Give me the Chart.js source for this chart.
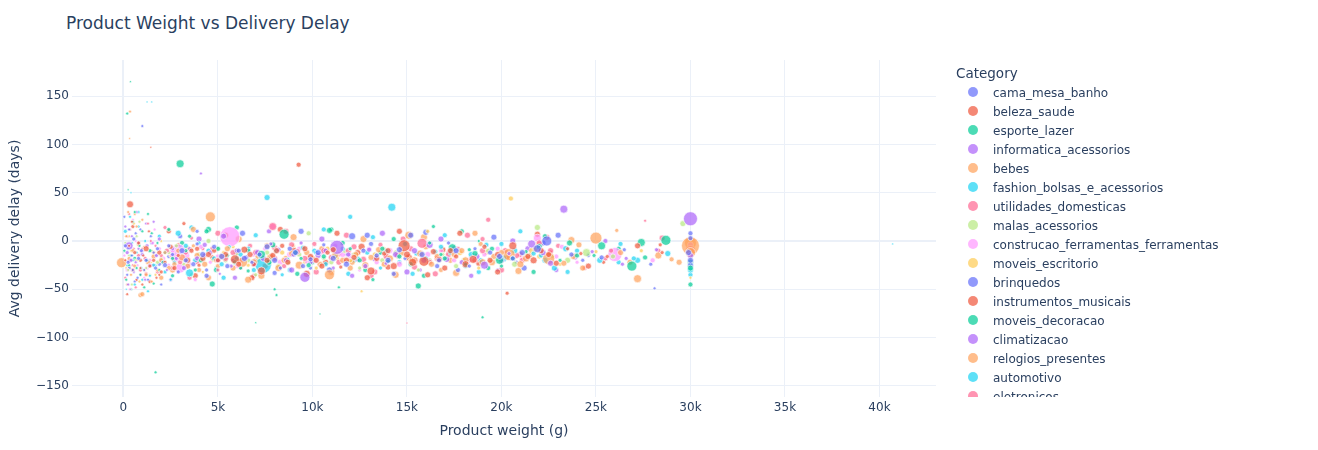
<!DOCTYPE html>
<html>
<head>
<meta charset="utf-8">
<script src="https://cdn.jsdelivr.net/npm/chart.js@4.4.1/dist/chart.umd.min.js"></script>
<style>
  html, body { margin:0; padding:0; background:#fff; }
  body { width:1318px; height:450px; position:relative; overflow:hidden; font-family:'DejaVu Sans', sans-serif; color:#2a3f5f; }
  #chart { position:absolute; left:0; top:0; }
  #title { position:absolute; left:66px; top:11px; font-size:17px; line-height:24px; white-space:nowrap; }
  #legend { position:absolute; left:940px; top:0; width:378px; height:397px; overflow:hidden; }
  #legend .lt { position:absolute; left:16px; top:64px; font-size:13.5px; line-height:18px; white-space:nowrap; }
  #legend .it { position:absolute; left:28px; height:19px; line-height:19px; font-size:12px; white-space:nowrap; }
  #legend .mk { display:inline-block; width:10px; height:10px; border-radius:50%; vertical-align:middle; margin-right:15px; position:relative; top:-1px; }
</style>
</head>
<body>
<div id="title">Product Weight vs Delivery Delay</div>
<canvas id="chart" width="1318" height="450"></canvas>
<div id="legend"></div>
<script>
// ---- data (x in thousands of grams, y = avg delay in days, r = bubble radius) ----
const categories = [
  "cama_mesa_banho","beleza_saude","esporte_lazer","informatica_acessorios","bebes",
  "fashion_bolsas_e_acessorios","utilidades_domesticas","malas_acessorios",
  "construcao_ferramentas_ferramentas","moveis_escritorio","brinquedos",
  "instrumentos_musicais","moveis_decoracao","climatizacao","relogios_presentes",
  "automotivo","eletronicos"
];
const palette = ["#636efa","#EF553B","#00cc96","#ab63fa","#FFA15A","#19d3f3","#FF6692","#B6E880","#FF97FF","#FECB52"];

const cama_mesa_banho = [0.1,-5,2, 0.3,12,1.5, 0.5,-30,1.5, 0.8,-18,2, 1.0,119,1.5, 1.3,-40,1.5, 1.8,-8,2, 2.2,-25,2.5, 2.6,-14,2, 3.3,-20,2.5, 3.9,-3,2, 4.4,-30,2, 5.2,-16,3, 6.1,-10,2.5, 6.8,-22,2, 7.6,-6,3, 8.3,-28,2, 9.1,-12,3, 9.9,-19,2.5, 10.6,-4,2, 11.8,-24,3, 12.1,5,3.5, 13.4,-15,2.5, 14.6,-9,3, 15.2,6,3, 16.7,-20,2.5, 17.2,-2,2, 18.3,-26,2, 19.4,-12,2.5, 20.6,-18,2.5, 21.9,-8,4, 22.4,0,5, 23.7,-14,2.5, 24.3,-20,2, 26.5,-9,2, 28.1,-49,1.5, 29.9,-12,3, 30,-20,3, 30,3,2.5,
  0.05,25,1.5, 0.2,-35,1.5, 0.45,-15,1.5, 0.65,8,1.5, 1.1,-30,1.5, 1.6,-12,1.5, 2.0,-45,1.5,
  0.25,-22,2, 0.55,2,2, 0.75,-38,1.5, 0.95,-10,2, 1.2,-20,2, 1.45,5,1.5, 1.7,-28,2, 2.4,-5,2, 2.9,-32,2, 3.1,-10,3, 3.7,-24,2.5, 4.2,-14,3, 4.8,-6,2.5, 5.5,-26,2.5, 6.4,-18,3, 7.2,-14,2.5, 8.0,-20,3, 8.8,-8,2.5, 9.5,-26,2.5, 10.3,-12,3, 11.1,-18,3, 12.7,-10,2.5, 14.0,-20,3, 15.8,-14,3, 17.6,-10,3, 19.9,-16,3, 21.1,-12,3, 25.3,-17,2.5];
const beleza_saude = [0.2,-55,1.5, 0.35,38,3.5, 0.6,-12,2, 0.9,-28,1.5, 1.2,-8,3, 1.45,97,1, 1.6,-20,2, 2.0,-32,2, 2.5,-6,2.5, 2.9,-15,2, 3.2,18,2, 3.6,-10,2.5, 4.0,-25,2, 4.5,-14,3, 5.0,-20,2.5, 5.9,-19,4.5, 6.4,-9,3.5, 6.9,-24,2.5, 7.3,-31,4, 7.9,-15,3, 8.4,-5,2.5, 9.27,79,2.5, 9.6,-8,3, 10.2,-20,3, 10.8,-12,2.5, 11.5,-27,2, 12.2,-17,3, 12.6,-6,3.5, 13.1,-31,4, 13.8,-13,2.5, 14.3,-26,3.5, 14.85,-5,6, 15.3,-22,4, 15.9,-21,5, 16.4,-11,3, 17.0,-28,3, 17.6,-16,2.5, 18.5,-19,4, 19.1,-6,2.5, 19.8,-14,3, 20.3,-54,2, 20.6,-5,4, 21.4,-16,3, 22.1,-10,3, 22.9,-23,3, 23.5,-8,2, 24.2,-13,2, 25.6,-16,2, 27.2,-5,3, 28.5,-12,2,
  0.1,-20,1.5, 0.3,-5,1.5, 0.45,20,1.5, 0.7,-40,1.5, 1.05,-15,1.5, 1.35,10,1.5, 1.75,-38,1.5,
  0.5,-30,2, 0.8,-2,2, 1.0,-45,1.5, 1.4,-26,2, 1.9,-12,2.5, 2.2,-22,2, 2.7,-28,2.5, 3.4,-20,3, 3.9,-8,2.5, 4.2,-18,3, 4.8,-10,2.5, 5.4,-14,3, 6.1,-24,3, 6.7,-14,3, 7.6,-20,3, 8.1,-10,3, 8.7,-22,3, 9.9,-16,3, 10.5,-26,3, 11.1,-9,3, 11.8,-20,3, 13.4,-18,3, 14.0,-10,3, 15.0,-14,3.5, 16.7,-19,3, 17.3,-10,3, 18.1,-24,3.5, 19.4,-20,3, 21.7,-20,3.5, 22.5,-14,3];
const esporte_lazer = [0.15,-40,1.5, 0.2,132,1.5, 0.37,165,1, 0.5,20,1.5, 0.9,-35,1.5, 1.1,-48,1.5, 1.5,8,1.5, 1.7,-136,1.5, 2.1,-22,2, 2.4,12,2, 3.0,80,4, 3.3,-10,2, 3.8,-30,2, 4.7,-44.5,3, 4.4,10,2.5, 5.5,-15,2, 6.2,-28,2, 7.0,-84.5,1, 7.3,-14,4, 8.0,-50,1.5, 8.5,7,5, 8.8,25,2.5, 9.4,-18,2, 10.4,-75.5,1, 10.9,11,3, 11.4,-48,1.5, 12.0,-8,2, 13.2,-40,2, 14.0,-21,2, 15.6,-46.5,3, 16.2,-2,2, 16.8,-14,2, 17.4,-7,4, 18.1,-24,2, 18.8,0,1.5, 19.0,-79,1.5, 19.5,-8,2.5, 19.9,-20,4, 21.3,-11,2, 23.1,-20,2, 25.3,-5,4, 26.9,-26,5, 27.4,-1.5,4, 28.7,0.7,5, 30,-45,2.5, 30,-28,3,
  0.05,-10,1.5, 0.3,-25,1.5, 0.6,30,1.5, 0.85,-5,1.5, 1.25,-20,1.5, 1.9,-30,1.5, 0.25,53,1,
  0.4,-15,1.5, 0.7,-28,1.5, 1.0,10,1.5, 1.4,-10,2, 1.8,-2,1.5, 2.6,-18,2, 3.5,5,2, 4.1,-20,2.5, 5.0,-8,2.5, 5.9,-22,2.5, 6.6,-10,2.5, 7.7,-22,3, 9.1,-12,2.5, 9.8,-25,2.5, 10.6,-16,2.5, 12.5,-20,2.5, 13.7,-8,2.5, 14.6,-16,2.5, 15.2,-24,2.5, 17.0,-18,2.5, 18.6,-13,3, 20.6,-18,2.5, 22.0,-6,3, 24.0,-15,2.5];
const informatica_acessorios = [0.3,-5,4, 0.4,-20,2, 0.7,30,1.5, 1.0,-14,2, 1.4,-25,2, 1.9,2,2, 2.3,-30,1.5, 2.8,-18,2, 3.5,-8,2, 4.1,70,1.5, 4.6,-12,2.5, 5.3,5,3, 5.7,-26,2, 6.5,-17,2.5, 7.1,-12,3, 7.8,-3,2, 8.6,-20,2.5, 9.6,-37.6,5, 10.3,-15,3, 11.3,-6.5,7, 12.4,-20,2, 13.0,-9,2.5, 13.9,-23,2, 15.4,-10,3, 16.2,-4,3.5, 17.1,-19,3, 17.9,-22,2.5, 19.1,-25,4, 20.4,-13,2, 21.6,-3,4, 22.6,-23,3, 23.3,33,4, 24.8,-11,2, 26.6,-18,2, 28.2,-9,2, 30,23,7, 30,-15,3,
  0.1,15,1.5, 0.55,-32,1.5, 0.8,-2,1.5, 1.15,-40,1.5, 1.6,20,1.5, 0.25,-45,1.5,
  0.2,-12,2, 0.45,5,1.5, 0.65,-22,1.5, 0.9,-35,1.5, 1.25,-5,2, 1.75,-15,2, 2.1,-22,2, 2.6,-8,2, 3.2,-28,2.5, 3.9,-18,2.5, 4.3,-4,2.5, 5.0,-20,2.5, 6.0,-10,2.5, 6.9,-24,2.5, 7.4,-18,3, 8.2,-9,2.5, 9.0,-14,2.5, 9.9,-22,2.5, 10.7,-10,2.5, 11.9,-14,2.5, 12.8,-26,2.5, 14.4,-14,3, 15.9,-20,3, 17.5,-8,3, 18.7,-16,3, 20.0,-20,3, 22.2,-12,3];
const bebes = [-0.1,-22.5,5, 0.33,106,1, 0.35,134,1.5, 0.5,-10,2, 0.9,-56,2.5, 1.0,-55,2.5, 1.3,-22,2.5, 1.8,-30,2, 2.2,-12,2, 2.7,-24,2.5, 3.1,-17,3.5, 3.7,-5,2, 4.0,-30,2.5, 4.6,25,5, 4.9,-20,2.5, 5.5,-8,3, 6.3,-22,5, 6.6,-40,3.5, 7.1,-16,2.5, 7.6,-5,3, 8.2,-28,3.5, 8.9,-13,3, 9.3,-25,4, 10.0,-18,3, 10.9,-35,5, 11.6,-20,3, 12.3,-14,3, 12.8,-25,3.5, 13.5,-9,3, 14.1,-18,3.5, 15.1,6,4, 15.7,-13,3.5, 16.3,-24,3, 16.8,-30,2.5, 17.5,-14,3, 18.1,-20,3.5, 18.9,-3,2.5, 19.6,-16,3, 20.4,-14,6, 21.0,-24,3.5, 21.8,-8,3, 22.5,-18,6, 23.3,-23,3, 24.1,-4,3, 25.0,3,6, 26.1,11,2, 26.3,-12,3, 27.2,-39,4, 28.3,-15,3.5, 29.4,-22,3, 30,-5,9, 30,-12,5,
  0.15,5,1.5, 0.4,-35,1.5, 0.7,15,1.5, 1.1,-6,1.5, 1.5,-42,1.5, 0.25,30,1.5,
  0.3,-18,2, 0.6,-26,2, 0.8,-4,2, 1.2,-35,2, 1.6,-16,2.5, 2.0,-20,2.5, 2.4,-28,2.5, 2.9,-10,2.5, 3.4,-26,3, 3.9,-15,3, 4.3,-24,3, 5.2,-16,3, 5.8,-28,3, 6.9,-22,3.5, 7.8,-16,3, 8.5,-20,3, 9.7,-12,3, 10.4,-24,3, 11.2,-15,3.5, 12.0,-28,3, 13.1,-17,3, 13.8,-24,3, 14.7,-12,3.5, 15.4,-20,3.5, 16.6,-16,3, 17.9,-10,3, 19.0,-22,3.5, 20.0,-12,3, 21.3,-18,3.5, 23.8,-16,3];
const fashion_bolsas_e_acessorios = [0.1,10,2, 0.25,-8,1.5, 0.6,-45,1.5, 0.8,15,1.5, 1.25,144,1, 1.5,144,1, 1.4,-36,1.5, 1.9,5,2, 2.5,-40,1.5, 2.9,8,3, 3.5,-33,4, 4.0,-2,2, 4.8,-18,2.5, 5.6,-6,2, 6.2,-14,2.5, 6.9,-30,2.5, 7.4,-25,8, 7.6,45,3, 8.1,-10,2.5, 8.7,-19,2, 9.5,-7,2.5, 10.7,-24,2.5, 11.2,-16,2.5, 12.0,25,2.5, 12.9,-12,2.5, 13.6,-28,2, 14.2,35,4, 14.9,-3,2.5, 16.0,-18,2.5, 17.3,-12,2.5, 18.4,-14,3, 19.2,-4,2.5, 20.1,-18,3.5, 21.7,-13,2.5, 22.8,-28,3, 23.4,-8,3, 25.2,-20,3, 26.3,-3,2.5, 27.0,-18,2.5, 28.8,-13,3, 30,-30,3,
  0.35,25,1.5, 0.5,-20,1.5, 0.95,-28,1.5, 1.15,0,1.5, 1.7,-15,1.5, 0.15,-50,1,
  0.2,-25,1.5, 0.45,-2,1.5, 0.7,-12,1.5, 1.0,-40,1.5, 1.6,-25,2, 2.2,-12,2, 2.7,-22,2, 3.3,-5,2.5, 3.8,-20,2.5, 4.5,-10,2.5, 5.2,-24,2.5, 6.0,-18,2.5, 6.6,-8,2.5, 7.8,-18,2.5, 9.0,-14,2.5, 10.2,-12,2.5, 11.6,-8,2.5, 12.4,-18,2.5, 13.9,-10,2.5, 15.5,-13,2.5, 16.8,-6,2.5, 18.9,-20,2.5, 20.7,-10,3, 22.1,-15,2.5, 24.0,-10,2.5];
const utilidades_domesticas = [0.2,5,1.5, 0.5,-25,1.5, 0.8,-15,2, 1.3,18,1.5, 1.8,-32,2, 2.3,-10,2.5, 3.0,-22,2.5, 3.6,3,2, 4.3,-15,2.5, 5.0,-30,2, 5.8,-12,3, 6.7,-5,2.5, 7.9,15,4, 8.5,-26,2.5, 9.2,-11,3, 10.1,-3,2.5, 11.0,-17,3, 11.9,-10,3, 12.7,-19,3, 13.3,-32,3, 14.5,-15,3, 15.0,-85,1, 15.8,-2.4,5, 16.6,-18,3, 17.7,-8,2.5, 18.6,-20,3, 19.3,22,2.5, 20.2,-10,3, 21.1,-20,3, 22.0,-2,3, 23.9,-15,2.5, 25.8,-10,2.5, 27.6,21,1.5, 28.5,3,3, 30,-10,5,
  0.1,-38,1.5, 0.35,12,1.5, 0.65,-48,1.5, 1.0,-8,1.5, 1.55,-25,1.5,
  0.3,-20,2, 0.55,-8,1.5, 0.9,-30,2, 1.15,-18,2, 1.45,0,1.5, 2.0,-15,2, 2.6,-28,2.5, 3.3,-12,2.5, 3.9,-22,2.5, 4.7,-8,2.5, 5.4,-18,3, 6.2,-20,3, 7.0,-12,3, 8.0,-18,3, 8.9,-4,3, 9.6,-18,3, 10.6,-10,3, 11.4,-22,3, 12.2,-6,3, 13.9,-16,3, 15.2,-8,3, 16.2,-22,3, 17.2,-14,3, 19.0,-10,3, 20.8,-15,3, 22.6,-10,3];
const malas_acessorios = [0.3,-15,1.5, 0.7,5,1.5, 1.2,-28,1.5, 2.0,-18,2, 2.8,-5,2, 3.6,-35,2, 4.5,0,2.5, 5.4,-20,2.5, 6.0,-12,3, 7.0,-35,2, 8.7,-22,2.5, 9.8,8,2.5, 10.6,-18,2, 11.7,-10,2.5, 12.5,-28,2, 13.7,-20,2.5, 15.6,-30,2, 16.9,-14,2, 18.0,-20,2.5, 19.3,-10,2.5, 20.7,-24,3, 21.9,14,3, 22.7,-16,2, 24.5,-12,4, 25.9,-16,2.5, 29.6,18,3,
  0.1,-2,1.5, 0.45,-45,1.5, 0.85,20,1.5, 1.5,-10,1.5,
  0.25,-30,1.5, 0.6,-20,1.5, 1.0,-8,1.5, 1.4,-35,1.5, 1.8,-22,2, 2.4,-12,2, 3.2,-24,2, 4.0,-14,2.5, 5.0,-8,2.5, 6.6,-20,2.5, 7.6,-12,2.5, 8.2,-26,2.5, 9.3,-14,2.5, 11.0,-22,2.5, 12.2,-14,2.5, 14.4,-12,2.5, 16.2,-20,2.5, 17.6,-26,2.5, 19.8,-18,2.5, 21.3,-14,2.5, 23.5,-20,3];
const construcao_ferramentas_ferramentas = [0.2,-30,2, 0.5,22,1.5, 0.9,-35,1.5, 1.4,-20,2, 1.9,-8,2, 2.4,-25,2, 2.9,-12.5,9, 3.0,-28,5, 3.3,-15,4, 3.8,-40,2, 4.6,-22,2, 5.63,4.5,10, 6.3,-18,2.5, 7.5,-8,2.5, 7.9,15,3, 8.8,-14,3, 9.7,-22,2, 10.5,-12,2.5, 11.2,-5,2.5, 12.0,-15,3, 12.5,-30,2, 13.4,-22,2.5, 14.1,-10,3, 15.5,-20,2.5, 16.8,-10,2.5, 18.3,-20,3, 19.1,-14,2.5, 21.9,3,4, 22.9,-16,2.5, 24.0,-22,2, 26.0,-14,7, 28.0,-20,2.5, 30,-4,3,
  0.05,-15,1.5, 0.35,-50,1.5, 0.65,0,1.5, 1.1,-38,1.5, 1.65,12,1.5,
  0.15,-5,2, 0.4,-18,1.5, 0.75,-25,1.5, 1.0,-10,2, 1.25,-28,2, 1.55,-2,2, 2.1,-18,2.5, 2.6,-10,2.5, 3.5,-24,2.5, 4.1,-6,2.5, 5.0,-16,2.5, 6.0,-26,2.5, 6.9,-14,2.5, 8.3,-22,3, 9.3,-8,2.5, 10.1,-20,3, 11.6,-14,3, 13.0,-8,2.5, 14.6,-24,3, 16.1,-14,3, 17.5,-20,2.5, 19.8,-8,2.5, 21.2,-18,3, 23.2,-6,2.5];
const moveis_escritorio = [0.4,-10,1.5, 1.1,-30,1.5, 2.0,0,1.5, 3.1,-20,2, 4.2,-32,1.5, 5.3,-12,2, 6.6,-25,2, 7.7,-16,2.5, 9.0,-5,2, 10.2,-28,2, 11.3,-18,2.5, 12.6,-52,1.5, 13.8,-8,2, 15.2,-20,2.5, 16.1,10,2, 17.8,-12,3, 18.8,-28,2, 20.5,44,2.5, 21.6,-10,3, 23.1,-24,2, 25.0,-11,2, 27.4,-10,2, 30,-38,1.5,
  0.15,-28,1.5, 0.55,18,1.5, 0.85,-42,1.5, 1.45,-22,1.5,
  0.3,5,1.5, 0.7,-20,1.5, 1.25,-6,1.5, 1.7,-35,1.5, 2.5,-15,2, 3.6,-8,2, 4.7,-20,2, 5.8,-6,2, 7.1,-20,2.5, 8.4,-12,2.5, 9.6,-22,2, 10.8,-8,2.5, 12.0,-20,2.5, 13.3,-14,2.5, 14.5,-24,2, 16.7,-18,2.5, 19.2,-12,2.5, 22.0,-16,2.5];
const brinquedos = [0.6,-42,1.5, 1.5,-2,2, 2.4,-16,2, 3.9,10,2, 5.8,-20,2, 7.2,-13,2.5, 9.9,-28,2, 11.8,-14,2, 13.1,-3,2.5, 14.9,-18,2, 16.6,-26,2.5, 18.6,-8,2, 20.8,-22,2, 22.2,-2,3, 24.6,-15,2, 27.9,-24,2, 30,-25,3, 30,8,2.5,
  0.3,-28,2, 0.9,12,1.5, 1.9,-24,2, 3.0,5,2.5, 4.4,-36,2.5, 6.3,8,3, 8.0,-33,2.5, 9.4,10,3, 10.9,-30,3, 12.9,6,3, 14.3,-34,2.5, 16.0,9,3, 17.7,-30,2.5, 19.6,4,3, 21.2,-28,3, 23.0,6,3];
const instrumentos_musicais = [0.9,-20,2, 1.9,-35,1.5, 2.9,-4,2, 4.7,-17,2.5, 6.0,-11,3.5, 7.5,-26,3, 9.0,-9,3, 10.7,-22,3, 12.4,-12,3, 14.0,-27,3, 15.1,-17,3.5, 16.9,-9,3, 18.8,-23,3, 20.3,-17,2.5, 22.6,-12,2.5, 25.4,-22,2, 28.4,-4,2,
  0.5,15,2, 1.4,-42,2, 2.4,10,2.5, 3.8,-36,3, 5.4,6,3, 6.8,-38,3, 8.3,12,3, 9.7,-34,3.5, 11.3,8,3, 12.9,-38,3, 14.6,10,3, 16.1,-35,3, 17.8,8,3, 19.8,-32,3, 21.9,7,3, 24.6,-26,3];
const moveis_decoracao = [0.4,-50,1.5, 1.3,28,1.5, 2.6,-36,2, 4.5,12,3, 6.6,-31,2, 8.1,-56,1.5, 10.0,-22,2.5, 11.6,-2,2.5, 13.6,-12,2.5, 16.4,15,2, 18.3,-9,2, 20.0,-26,2, 22.3,5,2.5, 24.9,-15,2, 27.6,-17,2.5, 30,-22,3,
  0.6,-18,2, 1.6,-44,1.5, 3.1,-2,2.5, 4.9,-30,2.5, 6.0,14,2.5, 7.9,-4,3, 9.2,-34,2.5, 11.0,12,2.5, 12.8,-30,2.5, 14.3,2,2.5, 15.9,-36,2.5, 17.9,10,2.5, 19.3,-28,2.5, 21.7,-32,2.5, 23.6,-2,3, 26.2,-8,2.5];
const climatizacao = [0.8,-8,1.5, 2.0,-22,2, 3.4,-26,2, 5.1,-34,1.5, 7.0,-20,2.5, 9.4,-2,2, 11.1,-28,2, 13.3,-19,2.5, 15.7,-30,2, 17.6,-11,2.5, 19.8,-30,2, 21.4,-8,3, 23.9,-17,2.5, 26.4,-24,2, 30,-8,3,
  0.45,-30,1.5, 1.2,18,1.5, 2.5,-40,2, 4.0,2,3, 5.9,-38,2.5, 7.7,10,2.5, 8.9,-30,3, 10.5,2,3, 12.1,-36,2.5, 13.7,8,3, 15.0,-32,3, 16.8,2,3, 18.4,-36,2.5, 20.6,0,3, 22.9,-30,2.5, 25.5,0,2.5];
const relogios_presentes = [0.6,28,1.5, 1.6,-12,2, 2.6,-30,3, 3.4,-8,3, 5.0,-26,2.5, 7.0,-12,2.5, 8.6,-18,3, 10.5,-8,3, 12.1,-22,3, 13.9,-14,3, 16.0,-6,3, 17.3,-20,3, 19.5,-22,3.5, 21.5,-15,3, 23.7,1,3.5, 26.8,-22,3, 29.0,-19,2.5, 30,-2,6,
  0.2,-45,1.5, 1.0,22,1.5, 2.0,-38,2.5, 3.7,12,3, 4.5,-38,3, 6.1,2,3.5, 7.3,-36,3.5, 9.0,4,3.5, 11.0,-32,3.5, 12.7,2,3.5, 14.4,-35,3.5, 15.9,4,3.5, 17.6,-33,3.5, 18.6,8,3, 20.9,-31,3.5, 22.0,-2,4, 24.3,-28,3];
const automotivo = [0.4,50,1, 1.7,-25,1.5, 3.0,-5,2, 4.9,-28,2, 6.5,-17,2.5, 8.4,-35,2, 10.1,-10,2.5, 12.2,-20,2.5, 14.6,-22,2.5, 16.5,-11,2.5, 18.1,-26,2.5, 20.0,-3,2.5, 22.3,-20,3, 24.6,-14,2, 27.2,-20,3, 30,-35,2.5, 40.7,-3,1,
  0.8,30,1.5, 1.3,-52,1.5, 2.2,-32,2, 3.6,14,2.5, 5.3,-38,2.5, 7.0,6,2.5, 8.8,-30,2.5, 10.6,12,2.5, 11.9,-34,2.5, 13.2,4,2.5, 15.3,-34,2.5, 17.0,6,2.5, 18.8,-32,2.5, 21.0,10,2.5, 23.5,-32,2.5, 26.2,-22,2.5];
const eletronicos = [0.7,-40,1.5, 1.7,-5,1.5, 2.7,-20,2.5, 4.2,-8,2, 6.2,-28,2, 8.0,-7,3, 9.8,-18,2.5, 11.4,-14,2.5, 13.6,-4,2.5, 15.4,-27,3, 17.2,-12,2.5, 19.0,2,2.5, 21.0,-14,3, 23.0,-5,2.5, 25.5,-18,2.5, 28.3,-10,2.5,
  0.3,28,1.5, 1.2,-34,2, 2.2,14,2, 3.5,-38,2.5, 5.0,8,3, 6.9,-36,2.5, 8.6,10,3, 10.2,-32,3, 11.8,6,3, 13.1,-36,3, 14.8,2,3, 16.5,-34,3, 18.2,6,3, 20.0,-30,3, 22.4,4,3, 24.4,-28,2.5];

const seriesValues = [cama_mesa_banho, beleza_saude, esporte_lazer, informatica_acessorios, bebes,
  fashion_bolsas_e_acessorios, utilidades_domesticas, malas_acessorios,
  construcao_ferramentas_ferramentas, moveis_escritorio, brinquedos, instrumentos_musicais,
  moveis_decoracao, climatizacao, relogios_presentes, automotivo, eletronicos];

const xTickValues = [0, 5000, 10000, 15000, 20000, 25000, 30000, 35000, 40000];
const yTickValues = [-150, -100, -50, 0, 50, 100, 150];

function hexA(h, a) {
  const n = parseInt(h.slice(1), 16);
  return `rgba(${(n>>16)&255},${(n>>8)&255},${n&255},${a})`;
}
function toPoints(flat) {
  const pts = [];
  for (let i = 0; i < flat.length; i += 3) pts.push({x: flat[i]*1000, y: flat[i+1], r: flat[i+2]});
  return pts;
}

const datasets = categories.map((c, i) => ({
  label: c,
  data: toPoints(seriesValues[i]),
  backgroundColor: hexA(palette[i % palette.length], 0.7),
  borderColor: 'rgba(255,255,255,0.9)',
  borderWidth: 0.7
}));

// HTML legend
const leg = document.getElementById('legend');
const lt = document.createElement('div'); lt.className = 'lt'; lt.textContent = 'Category'; leg.appendChild(lt);
categories.forEach((c, i) => {
  const it = document.createElement('div'); it.className = 'it';
  it.style.top = (83.8 + 19*i) + 'px';
  const mk = document.createElement('span'); mk.className = 'mk';
  mk.style.background = hexA(palette[i % palette.length], 0.7);
  it.appendChild(mk);
  it.appendChild(document.createTextNode(c));
  leg.appendChild(it);
});

Chart.defaults.font.family = "'DejaVu Sans', sans-serif";
Chart.defaults.color = '#2a3f5f';

const fmtMinus = v => (v < 0 ? '\u2212' + Math.abs(v) : String(v));

new Chart(document.getElementById('chart'), {
  type: 'bubble',
  data: { datasets },
  options: {
    responsive: false,
    animation: false,
    events: [],
    layout: { padding: { left: 0, top: 60, right: 382, bottom: 0 } },
    plugins: { legend: { display: false }, title: { display: false }, tooltip: { enabled: false } },
    scales: {
      x: {
        type: 'linear', min: -2720, max: 42990,
        afterFit: s => { s.height = 53; },
        afterBuildTicks: s => { s.ticks = xTickValues.map(v => ({value: v})); },
        grid: { color: '#ebf0f8', lineWidth: ctx => (ctx.tick && ctx.tick.value === 0 ? 2 : 1), drawTicks: false },
        border: { display: false },
        ticks: { padding: 4, font: { size: 12 }, color: '#2a3f5f', maxRotation: 0,
          callback: v => (v === 0 ? '0' : (v/1000) + 'k') },
        title: { display: true, text: 'Product weight (g)', font: { size: 14 }, color: '#2a3f5f', padding: { top: 0, bottom: 10 } }
      },
      y: {
        type: 'linear', min: -161.5, max: 187.4,
        afterFit: s => { s.width = 72; },
        afterBuildTicks: s => { s.ticks = yTickValues.map(v => ({value: v})); },
        grid: { color: '#ebf0f8', lineWidth: ctx => (ctx.tick && ctx.tick.value === 0 ? 2 : 1), drawTicks: false },
        border: { display: false },
        ticks: { padding: 3, font: { size: 12 }, color: '#2a3f5f', callback: v => fmtMinus(v) },
        title: { display: true, text: 'Avg delivery delay (days)', font: { size: 14 }, color: '#2a3f5f', padding: { top: 7, bottom: 0 } }
      }
    }
  }
});
</script>
</body>
</html>
